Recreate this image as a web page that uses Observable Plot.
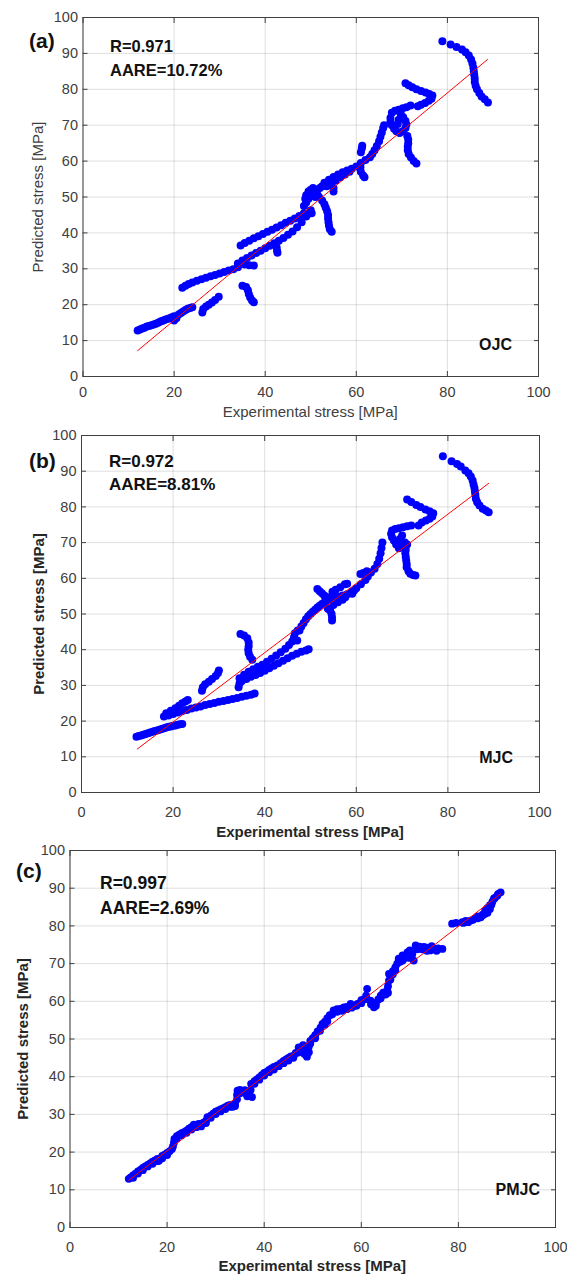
<!DOCTYPE html>
<html><head><meta charset="utf-8">
<script src="https://cdn.jsdelivr.net/npm/d3@7"></script>
<script src="https://cdn.jsdelivr.net/npm/@observablehq/plot@0.6"></script>
<style>
body{margin:0;background:#fff;}
#wrap{position:relative;width:567px;height:1277px;overflow:hidden;font-family:"Liberation Sans",Arial,sans-serif;background:#fff;}
#wrap svg{position:absolute;left:0;}
.t{position:absolute;white-space:nowrap;line-height:1;}
</style></head><body><div id="wrap"></div>
<script>
// ---------- data ----------
const xTicks = [0, 20, 40, 60, 80, 100];
const yTicks = [0, 10, 20, 30, 40, 50, 60, 70, 80, 90, 100];
const panelLabels = ["(a)", "(b)", "(c)"];
const modelNames = ["OJC", "MJC", "PMJC"];
const rValues = ["R=0.971", "R=0.972", "R=0.997"];
const aareValues = ["AARE=10.72%", "AARE=8.81%", "AARE=2.69%"];
const xTitle = "Experimental stress [MPa]";
const yTitle = "Predicted stress [MPa]";

const ojcPoints = [
[12,12.8],[12.5,13.1],[13,13.4],[13.5,13.6],[14,13.9],[14.5,14.1],[15,14.3],[15.5,14.5],[16,14.7],[16.5,15],[17,15.3],[17.5,15.5],[18,15.8],[18.5,16],[19,16.2],[19.5,16.5],[20,16.8],[20.5,16.2],[20,15.6],[21,17.3],[21.5,17.7],[22,18.1],[22.5,18.5],[23,18.9],[23.5,19.1],[24,19.3],
[26.2,17.8],[26.4,18.8],[27,19.5],[27.6,20],[28.3,20.6],[29,21.3],[29.8,22.2],
[21.8,24.7],[22.5,25.3],[23.2,25.8],[24,26.2],[25,26.7],[26,27.1],[27,27.5],[28,27.9],[29,28.3],[30,28.7],[31,29.1],[32,29.5],[33,29.9],[34,30.4],
[35,25.3],[35.8,24.9],[36.2,24],[36.4,23],[36.7,22],[37.1,21.2],[37.5,20.7],
[35.5,31.2],[36.5,31],[37.5,30.9],
[34,31.5],[35,32.3],[36,33],[37,33.7],[38,34.4],[39,35],[40,35.7],[41,36.4],[42,37.1],[43,37.8],[44,38.6],[45,39.5],[46,40.4],[47,41.6],[48,43],[49,44.6],[50,46.3],
[42.5,36],[42.6,35],[42.7,34.5],
[34.6,36.5],[35.5,37.2],[36.5,37.8],[37.5,38.5],[38.5,39.1],[39.5,39.7],[40.5,40.3],[41.5,40.9],[42.5,41.5],[43.5,42.1],[44.5,42.8],[45.5,43.4],[46.5,44],[47.5,44.7],[48.5,45.5],
[49.5,45.3],[50.2,45.5],
[48.5,47.5],[49,48.5],[49.5,49.5],[50,50.3],[50.5,51],[51,51.5],[51.5,52],[52,52.5],[52.5,53],[49,50.5],[49.5,51.5],[50,52],[50.5,52.5],[51,50],[51.5,50.5],[48.8,49.5],
[51.8,50],[52.5,49],[53,48],[53.3,47],[53.6,46],[53.8,45],[53.8,44],[53.9,43],[54,42],[54.2,41],[54.6,40.3],
[55,51.5],[55,52.5],
[53,54],[54,54.8],[55,55.6],[56,56.3],[57,56.9],[58,57.4],[59,57.9],[60,58.5],[53.5,53],[54.5,53.8],[55.5,54.6],[56.5,55.5],[57.5,56.3],[58.5,57],
[61,57],[61.5,56],[61.8,55.5],[60.9,58.3],[61,62.5],[61.2,63.5],[61.3,64.3],
[61,59.5],[62,60.3],[63,61.1],[63.5,62],[64,63],[64.5,64.2],[65,65.5],[65.3,66.8],[65.6,68],[65.9,69.2],[66.1,70],
[67.5,72],[67.8,73.5],[68.5,74],[69.3,74.3],[70.2,74.7],[71,75],[71.9,75.5],[67.5,71],[67.8,70],[68.3,69],[68.8,68.3],[69.5,67.8],[70.2,68.3],[70.8,69.2],[71,70.2],[70.8,71.2],[70.3,72.2],[69.8,73],[69.3,71.5],[69.1,70.3],[71.2,67],[71.4,66],[71.4,65],[71.3,64],[71.3,63],[71.5,62],[72,61],[72.6,60],[73.2,59.3],
[70.8,81.7],[71.5,81.1],[72.3,80.6],[73.2,80],[74.2,79.5],[75.2,79.1],[76,78.7],[76.7,78.3],[76.5,77.4],[75.9,76.8],[75.1,76.2],[74.2,75.7],[73.5,75.3],
[78.9,93.4],[80.7,92.5],[82,91.8],[83.2,91.1],[84,90.3],[84.7,89.4],[85.2,88.3],[85.5,87.2],[85.7,86],[85.8,85],[85.9,84],[86,83],[86,82],[86.2,81],[86.5,80],[87,79],[87.5,78],[88.2,77.2],[88.9,76.3]
];

const mjcPoints = [
[12,15.6],[12.5,15.8],[13,16],[13.5,16.2],[14,16.4],[14.5,16.6],[15,16.8],[15.5,17],[16,17.2],[16.5,17.4],[17,17.6],[17.5,17.8],[18,18],[18.5,18.2],[19,18.4],[19.5,18.5],[20,18.7],[20.5,18.8],[21,19],[21.5,19.1],[22,19.2],
[18,21.3],[19,21.6],[20,22],[21,22.4],[22,22.8],[23,23.1],[24,23.5],[25,23.8],[26,24.1],[27,24.5],[28,24.8],[29,25.1],[30,25.4],[31,25.6],[32,25.9],[33,26.2],[34,26.5],[35,26.8],[36,27.1],[37,27.4],[37.8,27.7],
[18.5,22.2],[19.5,22.9],[20.5,23.6],[21.3,24.3],[22,25],[22.7,25.5],[23.2,25.9],[21,23.2],
[26.3,28.5],[26.5,29.5],[27,30.3],[27.8,31],[28.5,31.8],[29.3,32.6],[29.8,33.5],[30,34.2],
[34.7,44.4],[35.5,44],[36.2,43.2],[36.5,42],[36.5,41],[36.4,40],[36.5,39],[36.8,38],[37.3,37.2],
[34.3,29.5],[34.5,30.5],[35,31.2],[36,31.8],[37,32.4],[38,32.9],[39,33.5],[40,34.1],[41,34.8],[42,35.5],[43,36.2],[44,36.9],[45,37.6],[46,38.3],[47,38.9],[48,39.4],[49,39.8],[49.6,40.1],
[34.5,32],[35.5,33],[36.5,33.8],[37.5,34.5],[38.5,35.2],[39.5,35.8],[40.5,36.6],[41.5,37.5],[42.5,38.4],[43.5,39.3],[44.5,40.3],[45.3,41.3],[46,42.3],[46.4,43.5],[46.6,44.6],[47.2,45.4],[47.1,42.6],[47.6,45.4],
[48,46.5],[48.5,47.5],[49,48.5],[49.5,49.4],[50,50],[50.5,50.6],[51,51.2],[51.5,51.8],[52,52.3],[52.5,52.8],[53,53.2],[53.5,53.6],[54,54],[55,54.4],[56,54.8],[57,55.2],[51.5,57],[52,56.4],[52.5,55.8],[53,55.2],[53.7,54.7],[54.3,51],[54.6,50],[54.7,49],[54.7,48.2],[53.8,51.5],[55,52.5],[56,53.3],[57,54],[58,55.5],[59,56.2],[58,58.5],[57.5,58.3],[56.5,57.5],[55.5,56.8],[54.8,56.2],
[59.5,56.5],[60,57.2],[61,58.3],[62,59.5],[62.5,60.5],[63.2,61.6],[64,62.7],[64.6,64],[65,65.5],[65.3,67],[65.5,68.5],[65.7,70],[61.5,61.5],[60.9,61.2],[62.3,62],[59.1,55.7],[57.6,54.7],
[67.8,73.4],[68.5,73.8],[69.3,74],[70.2,74.3],[71.1,74.6],[72,74.8],[67.6,72.5],[67.8,71.5],[68.2,70.6],[68.7,69.5],[69.3,68.4],[70,69],[70.6,70],[71.1,69.5],[70.8,68],[70.7,67],[70.8,66],[70.9,65],[71,64],[71,63.1],[71.4,62],[71.8,61.3],[72.4,60.9],[72.9,60.8],[69.5,71],[70,72],
[71.1,82.1],[72,81.4],[73.1,80.5],[74,80],[75.1,79.3],[76,78.8],[76.8,78.2],[76.6,77.3],[76,76.7],[75.2,76.2],[74.3,75.6],[73.6,74.8],
[78.9,94.2],[80.8,92.8],[82,92],[82.8,91.3],[83.8,90.2],[84.5,89.4],[85,88.5],[85.4,87.4],[85.6,86.3],[85.8,85.3],[85.9,84.3],[86,83.3],[86.1,82.3],[86.4,81.3],[86.9,80.4],[87.6,79.5],[88.3,79],[88.9,78.5]
];

const pmjcPoints = [
[12.1,12.9],[12.5,13.3],[13,13.8],[13.5,14.3],[14,14.9],[14.5,15.3],[15,15.8],[15.5,16.2],[16,16.6],[16.5,17],[17,17.5],[17.5,17.8],[18,18.2],[18.3,17.7],[18.8,18.3],[19,19],[19.5,19.3],[20,19.8],[20.5,20.2],[21,20.8],[21.2,21.5],[21.4,22.5],[21.5,23.5],[22,24.2],[22.5,24.6],[23,25],[23.5,25.3],[24,25.7],[24.5,26.2],[25,26.6],[25.5,27.3],[26,27.2],[26.5,27.5],[27,26.8],[27.5,27.8],[28,28.3],[28.3,29.3],[29,29.7],[29.5,30.2],[30,30.7],[30.5,31],[31,31.3],[31.5,31.6],[32,31.9],[32.5,32.3],[33,32.5],[33.5,32],[34,32.8],[34.4,34],[34.4,35.2],[34.5,36.3],[35,36.5],[35.5,36],[36,35.8],[36.5,35.5],[37,35],[37.5,34.6],[37.2,36.5],[37.3,38.1],[38,38.8],[38.5,39.3],[39,39.8],[39.5,40.4],[40,41],[40.5,41.3],[41,41.8],[41.5,42.2],[42,42.6],[42.7,43],[43.4,43.6],[44,44.2],[44.5,44.6],[45,45],[45.5,45.4],[46.1,45.6],[46.5,46.3],[47.1,47.8],[47.5,46.9],[48,47.5],[48.3,46],[48.8,45.3],[49.2,46.5],[49.2,48],[49.5,49.5],[50,50.2],[50.5,51],[51,52],[51.6,53],[52,54],[52.5,54.6],[53,55.5],[53.5,56.3],[54.3,57.6],[55,57.9],[55.7,58],[56.4,58.4],[57,58.5],[57.8,59.3],[58.5,58.8],[59.2,59.3],[60,59.5],[60.5,60.5],[61,61.5],[61.2,63.3],[61.9,60.2],[62.6,58.4],[63,59.5],[63.5,60.5],[64,61.5],[64.5,62.3],[65.3,62.9],[65.5,64],[65.7,65.5],[65.7,67.3],[66,66.8],[66.5,68],[67,69],[67.4,70],[67.7,71.3],[68.5,72.2],[69.5,73],[70,71.5],[70.8,70.8],[71.2,74.8],[72,74.5],[72.9,74.4],[73.5,74.2],[74.2,73.5],[74.9,73.9],[75.8,74],[76.7,73.9],[78.7,80.6],[80.8,81],[81.5,81.3],[82.5,81.4],[83.5,82],[84,82.5],[84.6,82.3],[85,82.8],[85,83],[85.5,84],[85.9,84.5],[86,83.5],[86.5,84.5],[86.5,85.5],[87,86.4],[87.3,87.2],[88,88],[88.7,88.9],
[13,13.2],[14,14.3],[15,15.2],[16,16.2],[17,16.9],[18,17.6],[19,18.4],[20,19.2],[22,23.6],[23,24.5],[24,25.1],[25,26],[26,26.6],[27,27.5],[28,27.7],[29,29.1],[30,30.1],[31,30.8],[32,31.4],[33,32],[34,32.2],[35,35.6],[36,36.4],[36.5,34.8],[38,38.1],[39,39.2],[40,40.3],[41,41.2],[42,41.9],[43,42.8],[44,43.6],[45,44.3],[46,45],[47,46.4],[48,48.4],[48.5,47.2],[49.5,48.8],[50.5,50.2],[51.5,52.2],[52.5,53.8],[53,54.7],[54,56.5],[55,57.2],[56,57.5],[57,57.9],[58,58.3],[59,58.8],[60,60.3],[61,60.6],[62,59.2],[62.5,59.6],[63,58.8],[64,60.8],[65,61.8],[65.5,62.3],[66,65.8],[66.5,67.2],[67,68.2],[68,70.5],[68.5,70.8],[69,71.5],[69.5,72],[70,73.5],[70.5,72.5],[71.5,73.8],[72.5,73.8],[73.5,73.4],[74.5,74.6],[75.5,73.4],[79.5,80.8],[81,80.8],[82,81],[83,81.6],[84,82],[85.5,83.2],[86,84.8],[86.8,85.6],[87.5,87.4],[88.2,88.5]
];

const ojcFit = [[12, 7.2], [88.8, 88.3]];
const mjcFit = [[12.2, 12.2], [88.9, 86.6]];
const pmjcFit = [[12.1, 12.5], [88.7, 88.5]];

// ---------- layout ----------
const layout = [
  {points: ojcPoints, fit: ojcFit, top: 0, height: 420, ml: 82.5, mr: 29, mt: 17, mb: 44, xOff: 10, r: 4, bold: false,
   xTitleY: 411, yTitleX: 37, labelX: 29, labelY: 40, rX: 110, rY: 46, aY: 70, nameRight: 512, nameY: 345, fs: 16.5},
  {points: mjcPoints, fit: mjcFit, top: 420, height: 420, ml: 81, mr: 28, mt: 15, mb: 48, xOff: 14, r: 4, bold: true,
   xTitleY: 831, yTitleX: 38, labelX: 29, labelY: 460, rX: 109, rY: 461, aY: 484, nameRight: 513, nameY: 758, fs: 17},
  {points: pmjcPoints, fit: pmjcFit, top: 840, height: 437, ml: 69.5, mr: 12, mt: 10, mb: 50, xOff: 14, r: 3.9, bold: true,
   xTitleY: 1265, yTitleX: 22, labelX: 16, labelY: 870, rX: 100, rY: 884, aY: 909, nameRight: 540, nameY: 1190, fs: 17.5}
];

const wrap = document.getElementById("wrap");
function addText(txt, css) {
  const d = document.createElement("div");
  d.className = "t";
  d.textContent = txt;
  Object.assign(d.style, css);
  wrap.appendChild(d);
  return d;
}

layout.forEach((p, i) => {
  const svg = Plot.plot({
    width: 567, height: p.height,
    marginLeft: p.ml, marginRight: p.mr, marginTop: p.mt, marginBottom: p.mb,
    x: {domain: [0, 100]},
    y: {domain: [0, 100]},
    style: {fontFamily: "Liberation Sans, Arial, sans-serif", fontSize: "14.5px", color: "#404040", background: "transparent", overflow: "visible"},
    marks: [
      Plot.gridX({ticks: xTicks, stroke: "#262626", strokeOpacity: 0.15}),
      Plot.gridY({ticks: yTicks, stroke: "#262626", strokeOpacity: 0.15}),
      Plot.dot(p.points, {x: d => d[0], y: d => d[1], r: p.r, fill: "#0000ff", stroke: "none"}),
      Plot.line(p.fit, {x: d => d[0], y: d => d[1], stroke: "#ff0000", strokeWidth: 1}),
      Plot.frame({stroke: "#404040", strokeWidth: 1}),
      Plot.axisX({ticks: xTicks, tickSize: -5, tickPadding: p.xOff + 5, label: null, stroke: "#404040"}),
      Plot.axisX({ticks: xTicks, anchor: "top", tickSize: -5, tickFormat: () => "", label: null, stroke: "#404040"}),
      Plot.axisY({ticks: yTicks, tickSize: -5, tickPadding: 10, label: null, stroke: "#404040"}),
      Plot.axisY({ticks: yTicks, anchor: "right", tickSize: -5, tickFormat: () => "", label: null, stroke: "#404040"})
    ]
  });
  svg.style.top = p.top + "px";
  wrap.appendChild(svg);

  const plotTop = p.top + p.mt, plotBottom = p.top + p.height - p.mb;
  const cx = (p.ml + 567 - p.mr) / 2, cy = (plotTop + plotBottom) / 2;
  const titleCss = {fontSize: "15px", fontWeight: p.bold ? "bold" : "normal", color: p.bold ? "#262626" : "#404040"};
  addText(xTitle, Object.assign({left: cx + "px", top: p.xTitleY + "px", transform: "translate(-50%,-50%)"}, titleCss));
  addText(yTitle, Object.assign({left: p.yTitleX + "px", top: cy + "px", transform: "translate(-50%,-50%) rotate(-90deg)"}, titleCss));
  addText(panelLabels[i], {left: p.labelX + "px", top: p.labelY + "px", transform: "translateY(-50%)", fontSize: "21px", fontWeight: "bold", color: "#111"});
  addText(rValues[i], {left: p.rX + "px", top: p.rY + "px", transform: "translateY(-50%)", fontSize: p.fs + "px", fontWeight: "bold", color: "#111"});
  addText(aareValues[i], {left: p.rX + "px", top: p.aY + "px", transform: "translateY(-50%)", fontSize: p.fs + "px", fontWeight: "bold", color: "#111"});
  const n = addText(modelNames[i], {top: p.nameY + "px", transform: "translateY(-50%)", fontSize: "16px", fontWeight: "bold", color: "#111"});
  n.style.right = (567 - p.nameRight) + "px";
});
</script></body></html>
